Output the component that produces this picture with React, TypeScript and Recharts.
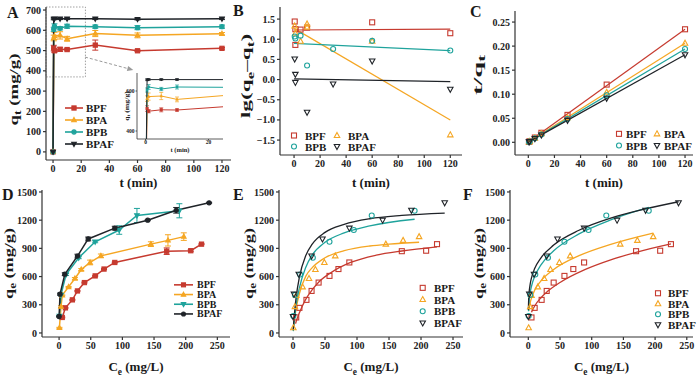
import React from "react";
import {
  ComposedChart,
  Line,
  Scatter,
  XAxis,
  YAxis,
  ErrorBar,
  Legend,
  ReferenceArea,
  ReferenceLine,
} from "recharts";

const RED = "#c63a2f";
const ORANGE = "#f5a623";
const TEAL = "#1fa39c";
const DARK = "#1f2328";
const INK = "#1a1a1a";
const FONT = '"Liberation Serif", "Times New Roman", serif';

const names = ["BPF", "BPA", "BPB", "BPAF"];
const colors = [RED, ORANGE, TEAL, DARK];

// A: qt vs t (kinetics)
const tA = [0, 0.5, 1, 5, 10, 30, 60, 120];
const qtBPF = [0, 512, 499, 506, 505, 527, 499, 511];
const qtBPA = [0, 562, 572, 575, 558, 584, 575, 583];
const qtBPB = [0, 605, 620, 610, 620, 618, 613, 618];
const qtBPAF = [0, 656, 657, 657, 657, 657, 655, 657];
const sdBPF = [0, 14, 8, 10, 6, 25, 4, 4];
const sdBPA = [0, 14, 18, 18, 12, 15, 12, 6];
const sdBPB = [0, 10, 12, 8, 10, 8, 10, 8];
const sdBPAF = [0, 4, 4, 4, 4, 4, 4, 4];

// B: pseudo-first-order
const tB_BPF = [0.5, 1, 1, 5, 10, 60, 120];
const lgBPF = [1.44, 1.25, 0.86, 1.24, 1.29, 1.42, 1.15];
const tB_BPA = [0.5, 1, 5, 10, 10, 60, 120];
const lgBPA = [1.33, 1.15, 0.95, 1.38, 1.3, 0.95, -1.37];
const tB_BPB = [0.5, 1, 5, 10, 30, 60, 120];
const lgBPB = [1.07, 1.02, 1.09, 0.35, 0.76, 0.96, 0.72];
const tB_BPAF = [0.5, 1, 1, 10, 30, 60, 120];
const lgBPAF = [0.51, 0.13, -0.07, -0.81, -0.11, 0.46, -0.24];
const fitT = [0, 120];
const fitB_BPF = [1.23, 1.25];
const fitB_BPA = [1.27, -1.0];
const fitB_BPB = [0.9, 0.72];
const fitB_BPAF = [0.02, -0.05];

// C: pseudo-second-order
const tC = [0.5, 1, 5, 10, 30, 60, 120];
const tqBPF = [0.001, 0.002, 0.0099, 0.0198, 0.057, 0.12, 0.235];
const tqBPA = [0.0009, 0.0017, 0.0087, 0.0179, 0.0514, 0.104, 0.206];
const tqBPB = [0.0008, 0.0016, 0.0082, 0.0161, 0.0485, 0.0978, 0.194];
const tqBPAF = [0.0008, 0.0015, 0.0076, 0.0152, 0.0456, 0.0916, 0.182];
const fitC_BPF = [0.0005, 0.235];
const fitC_BPA = [0.0005, 0.206];
const fitC_BPB = [0.0004, 0.194];
const fitC_BPAF = [0.0004, 0.182];

// D/E/F: isotherms
const ceBPF = [5, 10, 21, 29, 40, 57, 71, 88, 170, 208, 225];
const qeBPF = [165, 267, 352, 447, 536, 607, 680, 750, 870, 875, 945];
const seBPF = [5, 5, 5, 5, 5, 5, 5, 5, 35, 10, 5];
const ceBPA = [0.5, 3, 5, 15, 25, 35, 49, 66, 145, 172, 197];
const qeBPA = [55, 280, 400, 490, 580, 675, 750, 820, 945, 985, 1025];
const seBPA = [5, 10, 5, 5, 10, 10, 25, 20, 25, 60, 40];
const ceBPB = [0.5, 3, 11, 31, 57, 95, 123, 190];
const qeBPB = [180, 405, 622, 800, 970, 1095, 1250, 1300];
const seBPB = [5, 10, 10, 10, 10, 45, 75, 75];
const ceBPAF = [0, 1.5, 9, 29, 46, 88, 140, 185, 237];
const qeBPAF = [175, 413, 625, 818, 1000, 1115, 1200, 1305, 1385];
const seBPAF = [5, 10, 15, 20, 20, 20, 5, 30, 5];

// E: Langmuir fits
const eCeBPF = [4, 5, 10, 20, 30, 40, 60, 90, 130, 170, 225];
const eQBPF = [100, 125, 215, 360, 460, 540, 645, 750, 828, 872, 915];
const eCeBPA = [0.5, 1, 3, 5, 10, 20, 30, 50, 80, 120, 150, 197];
const eQBPA = [35, 70, 180, 265, 420, 605, 695, 800, 875, 925, 945, 965];
const eCeBPB = [0.3, 1, 3, 5, 10, 20, 30, 50, 80, 120, 190];
const eQBPB = [20, 70, 190, 300, 480, 700, 830, 965, 1065, 1140, 1210];
const eCeBPAF = [0.3, 1, 3, 5, 10, 20, 30, 50, 80, 120, 170, 237];
const eQBPAF = [30, 100, 260, 385, 595, 825, 945, 1070, 1155, 1215, 1250, 1275];

// F: Freundlich fits
const fCeBPF = [5, 10, 20, 30, 50, 90, 130, 170, 225];
const fQBPF = [220, 287, 375, 440, 537, 676, 778, 858, 947];
const fCeBPA = [1, 3, 5, 10, 20, 40, 80, 130, 197];
const fQBPA = [236, 322, 372, 455, 554, 675, 822, 943, 1063];
const fCeBPB = [0.3, 0.5, 1, 3, 5, 10, 20, 40, 80, 130, 190];
const fQBPB = [230, 265, 320, 432, 497, 601, 724, 874, 1054, 1203, 1335];
const fCeBPAF = [0.1, 0.5, 1, 3, 5, 10, 20, 40, 80, 130, 180, 237];
const fQBPAF = [245, 349, 408, 522, 586, 685, 800, 935, 1093, 1221, 1312, 1396];

type Kind = "sq" | "ci" | "up" | "dn";
type Pt = { x: number; y: number; e: number };
const pts = (xs: number[], ys: number[], es?: number[]): Pt[] =>
  xs.map((x, i) => ({ x, y: ys[i], e: es ? es[i] : 0 }));

const hollowKinds: Kind[] = ["sq", "up", "ci", "dn"];
const kindsA: Kind[] = ["sq", "up", "ci", "dn"];
const kindsD: Kind[] = ["sq", "up", "dn", "ci"];

const seriesA = [
  pts(tA, qtBPF, sdBPF),
  pts(tA, qtBPA, sdBPA),
  pts(tA, qtBPB, sdBPB),
  pts(tA, qtBPAF, sdBPAF),
];
const seriesB = [
  [pts(tB_BPF, lgBPF), pts(fitT, fitB_BPF)],
  [pts(tB_BPA, lgBPA), pts(fitT, fitB_BPA)],
  [pts(tB_BPB, lgBPB), pts(fitT, fitB_BPB)],
  [pts(tB_BPAF, lgBPAF), pts(fitT, fitB_BPAF)],
];
const seriesC = [
  [pts(tC, tqBPF), pts(fitT, fitC_BPF)],
  [pts(tC, tqBPA), pts(fitT, fitC_BPA)],
  [pts(tC, tqBPB), pts(fitT, fitC_BPB)],
  [pts(tC, tqBPAF), pts(fitT, fitC_BPAF)],
];
const seriesD = [
  pts(ceBPF, qeBPF, seBPF),
  pts(ceBPA, qeBPA, seBPA),
  pts(ceBPB, qeBPB, seBPB),
  pts(ceBPAF, qeBPAF, seBPAF),
];
const fitsE = [
  pts(eCeBPF, eQBPF),
  pts(eCeBPA, eQBPA),
  pts(eCeBPB, eQBPB),
  pts(eCeBPAF, eQBPAF),
];
const fitsF = [
  pts(fCeBPF, fQBPF),
  pts(fCeBPA, fQBPA),
  pts(fCeBPB, fQBPB),
  pts(fCeBPAF, fQBPAF),
];

function Mark(p: { cx?: number; cy?: number; kind: Kind; color: string; s?: number; filled?: boolean; sw?: number }) {
  const { cx, cy, kind, color, s = 5, filled, sw = 1.1 } = p;
  if (cx == null || cy == null || isNaN(cx) || isNaN(cy)) return null;
  const h = s / 2;
  const st = { fill: filled ? color : "none", stroke: color, strokeWidth: sw };
  if (kind === "sq") return <rect x={cx - h} y={cy - h} width={s} height={s} {...st} />;
  if (kind === "ci") return <circle cx={cx} cy={cy} r={h} {...st} />;
  if (kind === "up")
    return <polygon points={`${cx},${cy - h * 1.2} ${cx + h * 1.1},${cy + h * 0.8} ${cx - h * 1.1},${cy + h * 0.8}`} {...st} />;
  return <polygon points={`${cx},${cy + h * 1.2} ${cx + h * 1.1},${cy - h * 0.8} ${cx - h * 1.1},${cy - h * 0.8}`} {...st} />;
}

type Seg = [string, boolean?];
function runs(parts: Seg[], fs: number) {
  let low = false;
  return parts.map(([t, sub], i) => {
    const s = !!sub;
    const dy = s === low ? 0 : s ? fs * 0.3 : -fs * 0.3;
    low = s;
    return (
      <tspan key={i} dy={dy} fontSize={s ? fs * 0.72 : fs}>
        {t}
      </tspan>
    );
  });
}

function XTitle(p: any) {
  const vb = p.viewBox || { x: 0, y: 0, width: 0 };
  const fs = p.fs ?? 13;
  return (
    <text x={vb.x + vb.width / 2} y={vb.y + p.dy} textAnchor="middle" fontSize={fs} fontWeight={700} fontFamily={FONT} fill={INK}>
      {runs(p.parts, fs)}
    </text>
  );
}

// rotated axis title; k stretches it along its length (the source figure is squeezed sideways)
function YTitle(p: any) {
  const vb = p.viewBox || { x: 0, y: 0, height: 0 };
  const fs = p.fs ?? 13;
  const k = p.k ?? 1;
  const cx = vb.x + p.dx;
  const cy = vb.y + vb.height / 2 + (p.dy ?? 0);
  return (
    <text x={0} y={0} transform={`translate(${cx} ${cy}) rotate(-90) scale(${k} 1)`} textAnchor="middle" fontSize={fs} fontWeight={700} fontFamily={FONT} fill={INK}>
      {runs(p.parts, fs)}
    </text>
  );
}

type LOpts = { kinds: Kind[]; cols: number; colW: number; rowH: number; line?: boolean; filled?: boolean; fs: number; markX: number; textX: number; s: number };
function legendSvg(o: LOpts) {
  const rows = Math.ceil(names.length / o.cols);
  return (
    <svg width={o.cols * o.colW + 30} height={rows * o.rowH} style={{ overflow: "visible", display: "block" }}>
      {names.map((n, i) => {
        const r = Math.floor(i / o.cols);
        const c = i % o.cols;
        const x0 = c * o.colW;
        const cy = r * o.rowH + o.rowH / 2;
        return (
          <g key={n}>
            {o.line && <line x1={x0} x2={x0 + 2 * o.markX} y1={cy} y2={cy} stroke={colors[i]} strokeWidth={1.6} />}
            <Mark cx={x0 + o.markX} cy={cy} kind={o.kinds[i]} color={colors[i]} s={o.s} filled={o.filled} />
            <text x={x0 + o.textX} y={cy} dominantBaseline="central" fontSize={o.fs} fontWeight={700} fontFamily={FONT} fill={INK}>
              {n}
            </text>
          </g>
        );
      })}
    </svg>
  );
}

const TICK = { fontSize: 10, fontWeight: 700, fill: "#222", fontFamily: FONT };
const LINE = { stroke: "#333", strokeWidth: 1.2 };

type PanelProps = {
  left: number; top: number; w: number; h: number; mt: number; mr: number;
  yw: number; xh: number; xd: [number, number]; yd: [number, number];
  xt: number[]; yt: number[]; yfmt?: (v: number) => string;
  xTitle: Seg[]; yTitle: Seg[]; xDy: number; yDx: number; yDy?: number; yK?: number;
  letter: string; lx: number; ly: number;
  children?: React.ReactNode; overlay?: React.ReactNode;
};

function Panel(p: PanelProps) {
  return (
    <div style={{ position: "absolute", left: p.left, top: p.top }}>
      <ComposedChart width={p.w} height={p.h} margin={{ top: p.mt, right: p.mr, bottom: 0, left: 0 }}>
        <XAxis type="number" dataKey="x" domain={p.xd} ticks={p.xt} interval={0} allowDataOverflow height={p.xh}
          tick={TICK} tickSize={3} tickLine={LINE} axisLine={LINE}
          label={<XTitle parts={p.xTitle} dy={p.xDy} />} />
        <YAxis type="number" domain={p.yd} ticks={p.yt} interval={0} allowDataOverflow width={p.yw}
          tick={TICK} tickSize={3} tickLine={LINE} axisLine={LINE} tickFormatter={p.yfmt}
          label={<YTitle parts={p.yTitle} dx={p.yDx} dy={p.yDy} k={p.yK} />} />
        <XAxis xAxisId="top" orientation="top" type="number" domain={p.xd} allowDataOverflow height={0} tick={false} tickLine={false} axisLine={LINE} />
        <YAxis yAxisId="right" orientation="right" type="number" domain={p.yd} allowDataOverflow width={0} tick={false} tickLine={false} axisLine={LINE} />
        {p.children}
      </ComposedChart>
      <div style={{ position: "absolute", left: p.lx, top: p.ly, fontSize: 16, fontWeight: 700, lineHeight: 1, fontFamily: FONT, color: INK }}>
        {p.letter}
      </div>
      {p.overlay}
    </div>
  );
}

function Arrow(p: any) {
  const { x1, y1, x2, y2 } = p;
  const a = Math.atan2(y2 - y1, x2 - x1);
  const L = 6;
  const W = 2.6;
  const bx = x2 - L * Math.cos(a);
  const by = y2 - L * Math.sin(a);
  const nx = -Math.sin(a) * W;
  const ny = Math.cos(a) * W;
  return (
    <g>
      <line x1={x1} y1={y1} x2={bx} y2={by} stroke="#9a9a9a" strokeWidth={1} strokeDasharray="3 2" />
      <polygon points={`${x2},${y2} ${bx + nx},${by + ny} ${bx - nx},${by - ny}`} fill="#9a9a9a" />
    </g>
  );
}

const LINE_S = { stroke: "#333", strokeWidth: 0.8 };
const TICK_S = { fontSize: 5.5, fontWeight: 700, fill: "#222", fontFamily: FONT };

function Inset() {
  return (
    <div style={{ position: "absolute", left: 114, top: 73 }}>
      <ComposedChart width={110} height={84} margin={{ top: 0, right: 1, bottom: 0, left: 0 }}>
        <XAxis type="number" dataKey="x" domain={[-2.7, 24.6]} ticks={[0, 20]} interval={0} allowDataOverflow height={18}
          tick={TICK_S} tickSize={1.5} tickMargin={0} tickLine={LINE_S} axisLine={LINE_S}
          label={<XTitle parts={[["t (min)"]]} dy={12.5} fs={6.5} />} />
        <YAxis type="number" domain={[360, 690]} ticks={[400, 600]} interval={0} allowDataOverflow width={23}
          tick={TICK_S} tickSize={1.5} tickMargin={1} tickLine={LINE_S} axisLine={LINE_S}
          label={<YTitle parts={[["q"], ["t", true], [" (mg/g)"]]} dx={14.5} fs={6} k={1.3} />} />
        <XAxis xAxisId="top" orientation="top" type="number" domain={[-2.7, 24.6]} allowDataOverflow height={0} tick={false} tickLine={false} axisLine={LINE_S} />
        <YAxis yAxisId="right" orientation="right" type="number" domain={[360, 690]} allowDataOverflow width={0} tick={false} tickLine={false} axisLine={LINE_S} />
        {seriesA.map((d, i) => (
          <Line key={names[i]} data={d} dataKey="y" stroke={colors[i]} strokeWidth={1} isAnimationActive={false}
            dot={(p: any) => <Mark key={`i${i}-${p.index}`} cx={p.cx} cy={p.cy} kind={kindsA[i]} color={colors[i]} s={2.4} filled sw={0.6} />}>
            <ErrorBar dataKey="e" width={2} stroke={colors[i]} strokeWidth={0.7} />
          </Line>
        ))}
      </ComposedChart>
    </div>
  );
}

const fmt1 = (v: number) => v.toFixed(1).replace("-", "\u2212");
const fmt2 = (v: number) => v.toFixed(2);
const ticksT = [0, 20, 40, 60, 80, 100, 120];
const ticksCe = [0, 50, 100, 150, 200, 250];
const ticksQe = [0, 300, 600, 900, 1200, 1500];
const qeTitle: Seg[] = [["q"], ["e", true], [" (mg/g)"]];
const ceTitle: Seg[] = [["C"], ["e", true], [" (mg/L)"]];

export default function App() {
  return (
    <div style={{ position: "absolute", left: 0, top: 0, width: 700, height: 376, background: "#fff", fontFamily: FONT, overflow: "hidden" }}>
      {/* A */}
      <Panel left={0} top={0} w={233} h={192} mt={7} mr={2} yw={46} xh={32} xd={[-5, 126.4]} yd={[-40, 715]}
        xt={ticksT} yt={[0, 100, 200, 300, 400, 500, 600, 700]} xTitle={[["t (min)"]]} xDy={27}
        yTitle={[["q"], ["t", true], [" (mg/g)"]]} yDx={17.5} yDy={6} yK={1.45} letter="A" lx={7} ly={5}
        overlay={<Inset />}>
        <ReferenceArea x1={-5} x2={23} y1={370} y2={715} fill="none" stroke="#a0a0a0" strokeWidth={1} strokeDasharray="1.5 1.5" ifOverflow="visible" />
        <ReferenceLine segment={[{ x: 22.7, y: 468 }, { x: 57, y: 404 }]} shape={Arrow} ifOverflow="visible" />
        {seriesA.map((d, i) => (
          <Line key={names[i]} data={d} dataKey="y" stroke={colors[i]} strokeWidth={1.5} isAnimationActive={false}
            dot={(p: any) => <Mark key={`a${i}-${p.index}`} cx={p.cx} cy={p.cy} kind={kindsA[i]} color={colors[i]} s={4.2} filled />}>
            <ErrorBar dataKey="e" width={3} stroke={colors[i]} strokeWidth={1} />
          </Line>
        ))}
        <Legend layout="vertical" align="center" verticalAlign="middle" wrapperStyle={{ left: 65, top: 101.7, width: "auto" }}
          content={() => legendSvg({ kinds: kindsA, cols: 1, colW: 60, rowH: 12, line: true, filled: true, fs: 11, markX: 9, textX: 21, s: 4.2 })} />
      </Panel>

      {/* B */}
      <Panel left={232} top={0} w={232} h={192} mt={7} mr={2} yw={48} xh={37} xd={[-10.8, 129]} yd={[-1.87, 1.8]}
        xt={ticksT} yt={[-1.5, -1, -0.5, 0, 0.5, 1, 1.5]} yfmt={fmt1} xTitle={[["t (min)"]]} xDy={32}
        yTitle={[["lg(q"], ["e", true], ["\u2013q"], ["t", true], [")"]]} yDx={18} yDy={-5} yK={1.8} letter="B" lx={1} ly={2.5}>
        {seriesB.map(([, fit], i) => (
          <Line key={`f${names[i]}`} data={fit} dataKey="y" stroke={colors[i]} strokeWidth={1.2} dot={false} isAnimationActive={false} />
        ))}
        {seriesB.map(([d], i) => (
          <Scatter key={names[i]} data={d} dataKey="y" isAnimationActive={false}
            shape={(p: any) => <Mark cx={p.cx} cy={p.cy} kind={hollowKinds[i]} color={colors[i]} s={5} />} />
        ))}
        <Legend layout="vertical" align="center" verticalAlign="middle" wrapperStyle={{ left: 57, top: 129.5, width: "auto" }}
          content={() => legendSvg({ kinds: hollowKinds, cols: 2, colW: 43, rowH: 11, fs: 11, markX: 5, textX: 16, s: 5 })} />
      </Panel>

      {/* C */}
      <Panel left={466} top={0} w={234} h={192} mt={11} mr={7} yw={49} xh={37} xd={[-10.2, 126.1]} yd={[-0.0264, 0.273]}
        xt={ticksT} yt={[0, 0.05, 0.1, 0.15, 0.2, 0.25]} yfmt={fmt2} xTitle={[["t (min)"]]} xDy={32}
        yTitle={[["t/q"], ["t", true]]} yDx={15.5} yDy={-8} yK={2.2} letter="C" lx={4} ly={4}>
        {seriesC.map(([, fit], i) => (
          <Line key={`f${names[i]}`} data={fit} dataKey="y" stroke={colors[i]} strokeWidth={1.2} dot={false} isAnimationActive={false} />
        ))}
        {seriesC.map(([d], i) => (
          <Scatter key={names[i]} data={d} dataKey="y" isAnimationActive={false}
            shape={(p: any) => <Mark cx={p.cx} cy={p.cy} kind={hollowKinds[i]} color={colors[i]} s={5} />} />
        ))}
        <Legend layout="vertical" align="center" verticalAlign="middle" wrapperStyle={{ left: 148, top: 127.5, width: "auto" }}
          content={() => legendSvg({ kinds: hollowKinds, cols: 2, colW: 38, rowH: 11.7, fs: 11, markX: 5, textX: 12, s: 5 })} />
      </Panel>

      {/* D */}
      <Panel left={0} top={185} w={232} h={191} mt={5} mr={2} yw={42} xh={39} xd={[-27, 270]} yd={[-43, 1521]}
        xt={ticksCe} yt={ticksQe} xTitle={ceTitle} xDy={34} yTitle={qeTitle} yDx={12.5} yK={1.4}
        letter="D" lx={2} ly={1.5}>
        {seriesD.map((d, i) => (
          <Line key={names[i]} data={d} dataKey="y" stroke={colors[i]} strokeWidth={1.5} isAnimationActive={false}
            dot={(p: any) => <Mark key={`d${i}-${p.index}`} cx={p.cx} cy={p.cy} kind={kindsD[i]} color={colors[i]} s={4.2} filled />}>
            <ErrorBar dataKey="e" width={3} stroke={colors[i]} strokeWidth={1} />
          </Line>
        ))}
        <Legend layout="vertical" align="center" verticalAlign="middle" wrapperStyle={{ left: 174, top: 94.5, width: "auto" }}
          content={() => legendSvg({ kinds: kindsD, cols: 1, colW: 50, rowH: 9.7, line: true, filled: true, fs: 10, markX: 9.5, textX: 23, s: 4 })} />
      </Panel>

      {/* E */}
      <Panel left={232} top={185} w={233} h={191} mt={5} mr={2} yw={47} xh={39} xd={[-21.9, 265.6]} yd={[-43, 1521]}
        xt={ticksCe} yt={ticksQe} xTitle={ceTitle} xDy={34} yTitle={qeTitle} yDx={20.5} yK={1.4}
        letter="E" lx={1} ly={1.5}>
        {fitsE.map((d, i) => (
          <Line key={`f${names[i]}`} data={d} dataKey="y" type="monotone" stroke={colors[i]} strokeWidth={1.3} dot={false} isAnimationActive={false} />
        ))}
        {seriesD.map((d, i) => (
          <Scatter key={names[i]} data={d} dataKey="y" isAnimationActive={false}
            shape={(p: any) => <Mark cx={p.cx} cy={p.cy} kind={hollowKinds[i]} color={colors[i]} s={5} />} />
        ))}
        <Legend layout="vertical" align="center" verticalAlign="middle" wrapperStyle={{ left: 185, top: 96.9, width: "auto" }}
          content={() => legendSvg({ kinds: hollowKinds, cols: 1, colW: 40, rowH: 11.7, fs: 11, markX: 5.7, textX: 17, s: 5 })} />
      </Panel>

      {/* F */}
      <Panel left={466} top={185} w={234} h={191} mt={5} mr={7} yw={44} xh={39} xd={[-28.9, 259.8]} yd={[-43, 1521]}
        xt={ticksCe} yt={ticksQe} xTitle={ceTitle} xDy={34} yTitle={qeTitle} yDx={16.5} yK={1.4}
        letter="F" lx={-3} ly={1.5}>
        {fitsF.map((d, i) => (
          <Line key={`f${names[i]}`} data={d} dataKey="y" type="monotone" stroke={colors[i]} strokeWidth={1.3} dot={false} isAnimationActive={false} />
        ))}
        {seriesD.map((d, i) => (
          <Scatter key={names[i]} data={d} dataKey="y" isAnimationActive={false}
            shape={(p: any) => <Mark cx={p.cx} cy={p.cy} kind={hollowKinds[i]} color={colors[i]} s={5} />} />
        ))}
        <Legend layout="vertical" align="center" verticalAlign="middle" wrapperStyle={{ left: 186, top: 102.5, width: "auto" }}
          content={() => legendSvg({ kinds: hollowKinds, cols: 1, colW: 40, rowH: 10.5, fs: 11, markX: 6, textX: 16, s: 5 })} />
      </Panel>
    </div>
  );
}
